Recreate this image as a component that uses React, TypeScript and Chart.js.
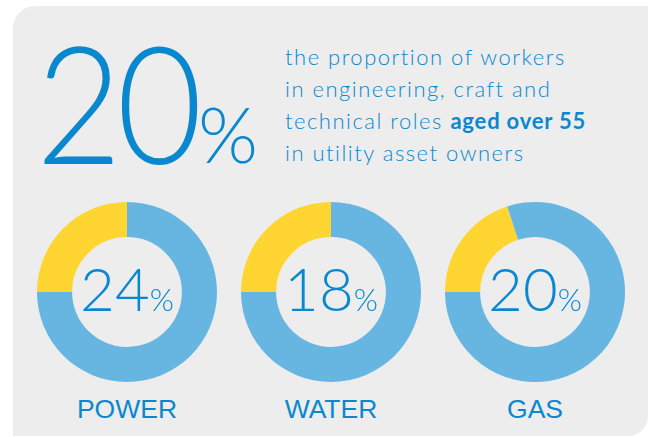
import React, { useEffect, useRef } from "react";
import { Chart, registerables } from "chart.js";

Chart.register(...registerables);

const categories = ["POWER", "WATER", "GAS"];
const labelPercents = [24, 18, 20];
// slice shares as drawn in the picture (yellow = aged over 55, blue = rest)
const yellowShares = [25, 25, 20];
const blueShares = [75, 75, 80];
const centersX = [127, 331, 535];

const BLUE_TEXT = "#0A88CF";
const RING_BLUE = "#67B6E1";
const RING_YELLOW = "#FFD531";
const BG = "#EDEDED";

function Donut({ index }: { index: number }) {
  const ref = useRef<HTMLCanvasElement | null>(null);
  useEffect(() => {
    if (!ref.current) return;
    const chart = new Chart(ref.current, {
      type: "doughnut",
      data: {
        labels: ["aged over 55", "other"],
        datasets: [
          {
            data: [yellowShares[index], blueShares[index]],
            backgroundColor: [RING_YELLOW, RING_BLUE],
            borderWidth: 0,
          },
        ],
      },
      options: {
        responsive: false,
        maintainAspectRatio: false,
        animation: false,
        rotation: -90,
        cutout: "61%",
        events: [],
        layout: { padding: 0 },
        plugins: { legend: { display: false }, tooltip: { enabled: false } },
      },
    });
    return () => chart.destroy();
  }, [index]);
  const cx = centersX[index];
  return (
    <>
      <canvas
        ref={ref}
        width={180}
        height={180}
        style={{ position: "absolute", left: cx - 90, top: 202, width: 180, height: 180 }}
      />
      <div
        style={{
          position: "absolute",
          left: cx - 100,
          width: 200,
          top: 258,
          textAlign: "center",
          color: BLUE_TEXT,
          fontFamily: "Lato",
          fontWeight: 300,
          lineHeight: 1,
          whiteSpace: "nowrap",
        }}
      >
        <span style={{ fontSize: 60 }}>{labelPercents[index]}</span>
        <span style={{ fontSize: 31 }}>%</span>
      </div>
      <div
        style={{
          position: "absolute",
          left: cx - 100,
          width: 200,
          top: 396,
          textAlign: "center",
          color: BLUE_TEXT,
          fontFamily: "'Liberation Sans', Arial, sans-serif",
          fontSize: 26.5,
          lineHeight: 1,
        }}
      >
        {categories[index]}
      </div>
    </>
  );
}

export default function App() {
  return (
    <div
      style={{
        position: "fixed",
        left: 0,
        top: 0,
        width: 651,
        height: 437,
        background: "#FFFFFF",
        overflow: "hidden",
      }}
    >
      <div
        style={{
          position: "absolute",
          left: 13,
          top: 6,
          width: 635,
          height: 430,
          background: BG,
          borderRadius: "22px 0 20px 0",
        }}
      />
      <div
        style={{
          position: "absolute",
          left: 36,
          top: 20,
          color: BLUE_TEXT,
          fontFamily: "Lato",
          fontWeight: 300,
          fontSize: 163,
          lineHeight: 1,
          whiteSpace: "nowrap",
          letterSpacing: -6,
          transform: "scaleX(0.91)",
          transformOrigin: "0 0",
        }}
      >
        20
      </div>
      <div
        style={{
          position: "absolute",
          left: 198,
          top: 95,
          color: BLUE_TEXT,
          fontFamily: "Lato",
          fontWeight: 300,
          fontSize: 77,
          lineHeight: 1,
          whiteSpace: "nowrap",
        }}
      >
        %
      </div>
      <div
        style={{
          position: "absolute",
          left: 285,
          top: 41,
          color: BLUE_TEXT,
          fontFamily: "Lato",
          fontWeight: 300,
          fontSize: 22,
          lineHeight: "32px",
          letterSpacing: 1.5,
          whiteSpace: "nowrap",
        }}
      >
        <div>the proportion of workers</div>
        <div>in engineering, craft and</div>
        <div>
          technical roles <span style={{ fontWeight: 700, letterSpacing: 0.8 }}>aged over 55</span>
        </div>
        <div>in utility asset owners</div>
      </div>
      {categories.map((_, i) => (
        <Donut key={i} index={i} />
      ))}
    </div>
  );
}
